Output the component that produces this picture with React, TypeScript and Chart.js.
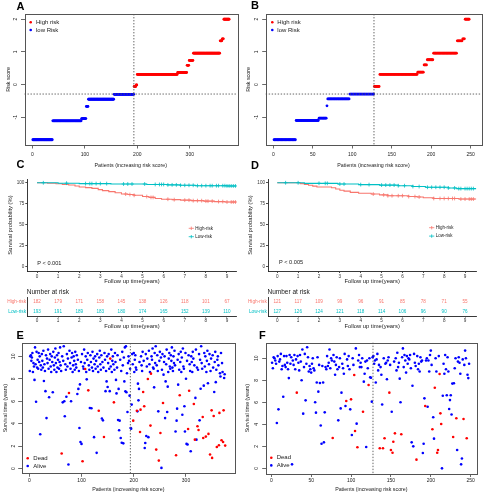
import React, { useEffect, useRef } from "react";
import { Chart, registerables } from "chart.js";

Chart.register(...registerables);

const FONT = "'Liberation Sans', Arial, Helvetica, sans-serif";
const RED = "#FF0000";
const BLUE = "#0000FF";
const HIGH_COL = "#F8766D";
const LOW_COL = "#00BFC4";
const INK = "#1a1a1a";

// ---------- Panels A / B : risk score (step levels and number of patients per level)
const riskLevelsA = [-1.69, -1.11, -1.04, -0.67, -0.45, -0.3, -0.06, -0.01, 0.31, 0.37, 0.59, 0.74, 0.96, 1.34, 1.4, 2.0];
const riskCountsA = [38, 55, 9, 4, 49, 38, 4, 2, 77, 18, 4, 8, 51, 4, 3, 11];
const lowRiskCountA = 193;
const riskLevelsB = [-1.69, -1.1, -1.03, -0.65, -0.44, -0.29, -0.06, 0.31, 0.38, 0.6, 0.76, 0.96, 1.34, 1.4, 2.0];
const riskCountsB = [28, 29, 10, 1, 28, 31, 7, 48, 8, 4, 8, 30, 7, 3, 6];
const lowRiskCountB = 127;
const riskCutoff = -0.29;
const riskTicksY = [-1, 0, 1, 2];
const patientTicksA = [0, 100, 200, 300];
const patientTicksB = [0, 50, 100, 150, 200, 250];

// ---------- Panels E / F : survival time per patient (ordered by risk score)
const survTimeE = [
  8.7, 10.0, 10.1, 9.6, 9.9, 10.3, 8.6, 9.4, 9.1, 7.9, 10.8, 9.3, 5.95, 10.4, 9.0, 9.7, 8.9, 10.3, 9.5, 10.0, 3.06, 9.2, 8.8, 10.2, 9.6,
  9.0, 10.5, 7.8, 9.3, 8.7, 6.9, 10.1, 4.5, 9.8, 9.4, 10.6, 8.9, 6.35, 9.7, 10.2, 9.1, 8.6, 10.0, 9.5, 6.8, 10.4, 9.2, 8.8, 9.9, 10.7,
  9.4, 8.6, 10.1, 9.0, 9.7, 10.3, 8.9, 9.5, 10.8, 9.2, 8.7, 1.34, 10.0, 5.9, 9.6, 10.9, 6.0, 4.66, 9.3, 8.8, 6.4, 10.2, 9.1, 9.8, 0.36,
  6.74, 10.5, 9.4, 8.9, 6.0, 9.9, 10.3, 8.6, 9.2, 10.0, 9.6, 8.8, 10.4, 9.3, 9.0, 10.1, 6.65, 9.7, 7.1, 8.7, 3.62, 7.5, 2.37, 9.5, 2.2,
  10.2, 0.65, 9.1, 8.9, 10.6, 9.4, 8.87, 10.0, 8.6, 7.95, 9.7, 10.3, 6.97, 9.2, 8.8, 5.4, 10.1, 9.5, 5.37, 9.0, 10.4, 8.7, 9.8, 2.8, 9.3,
  10.0, 8.9, 9.6, 1.4, 10.2, 9.1, 8.6, 5.16, 9.9, 10.5, 9.3, 8.8, 10.1, 4.46, 9.5, 4.3, 9.0, 2.82, 10.3, 9.7, 6.9, 8.7, 7.77, 10.0, 7.27,
  9.4, 10.2, 8.9, 6.9, 9.8, 9.1, 10.6, 8.6, 9.6, 10.0, 9.3, 5.9, 8.8, 10.3, 9.5, 7.9, 6.7, 9.0, 10.1, 4.33, 7.1, 3.41, 4.27, 9.7, 2.73,
  8.7, 2.3, 10.4, 9.2, 2.25, 9.9, 7.77, 10.8, 6.88, 10.9, 6.8, 8.5, 5.04, 9.4, 10.0, 9.6, 6.5, 8.9, 3.62, 3.56, 5.7, 10.2, 9.3, 4.27, 10.3,
  8.6, 9.7, 10.1, 9.0, 8.8, 5.16, 5.1, 7.57, 6.08, 7.1, 9.5, 3.26, 5.25, 10.0, 9.2, 8.7, 10.4, 6.82, 9.6, 5.55, 1.84, 2.28, 10.2, 2.9, 9.1,
  9.8, 7.98, 2.8, 10.5, 9.3, 8.6, 3.83, 8.46, 10.0, 9.7, 10.7, 9.0, 8.9, 7.24, 10.3, 9.4, 10.9, 1.69, 9.2, 10.1, 8.7, 5.1, 0.71, 9.6, 10.4,
  3.17, 9.9, 0.06, 8.8, 10.2, 5.85, 8.37, 9.5, 10.0, 4.5, 7.77, 9.3, 10.6, 5.04, 7.3, 8.6, 9.8, 10.3, 9.1, 8.9, 10.1, 9.6, 10.8, 9.0, 8.7,
  10.0, 9.4, 10.5, 9.2, 3.3, 1.19, 4.27, 5.34, 9.7, 7.48, 10.2, 8.8, 6.53, 9.5, 10.4, 8.6, 9.9, 4.8, 10.7, 9.1, 8.9, 5.55, 3.3, 10.3, 8.0,
  2.2, 9.6, 2.14, 3.53, 10.1, 6.94, 9.3, 8.7, 1.54, 10.0, 9.5, 8.6, 10.4, 9.8, 5.76, 9.2, 2.58, 6.3, 10.6, 2.58, 9.0, 3.77, 8.8, 3.44, 10.2,
  4.3, 9.7, 7.12, 10.9, 9.4, 8.9, 4.6, 2.73, 7.39, 10.3, 9.1, 10.0, 2.85, 8.6, 9.6, 10.5, 7.6, 3.09, 9.3, 10.2, 1.25, 8.7, 9.8, 5.19, 0.95,
  10.1, 9.0, 4.69, 6.82, 9.5, 10.4, 7.7, 8.8, 1.93, 9.7, 10.0, 9.2, 2.08, 4.96, 8.5, 8.2, 10.3, 2.52, 9.4, 8.6, 2.37, 5.19, 8.07, 8.4, 2.05,
];
const deadPatientsE = [62, 76, 102, 107, 113, 133, 143, 155, 162, 199, 206, 212, 213, 218, 220, 227, 232, 233, 243, 248, 251, 256, 281, 288, 304, 306, 315, 317, 322, 324, 332, 333, 338, 343, 346, 349, 350, 353, 359, 363, 364, 368, 371, 372, 375];

const survTimeF = [
  9.6, 9.1, 10.1, 10.0, 9.8, 9.5, 4.12, 10.2, 5.36, 9.7, 9.9, 10.4, 9.0, 9.3, 6.5, 10.2, 9.4, 9.2, 10.2, 9.6, 9.0, 8.2, 10.3, 9.5, 10.1,
  0.36, 9.8, 9.4, 10.3, 9.0, 9.9, 6.88, 10.2, 9.6, 8.9, 10.3, 9.7, 8.0, 10.8, 4.97, 9.2, 10.4, 6.18, 9.5, 11.0, 10.1, 8.8, 9.3, 9.0, 8.7,
  9.5, 10.0, 9.1, 8.9, 6.0, 5.06, 7.8, 10.1, 6.97, 9.4, 7.76, 3.9, 2.24, 9.3, 7.8, 2.36, 5.09, 9.2, 9.0, 10.2, 9.3, 9.6, 10.8, 9.1, 10.0,
  9.8, 2.76, 10.3, 9.7, 8.5, 9.4, 10.1, 9.0, 4.36, 9.2, 10.0, 5.45, 6.88, 9.5, 9.1, 8.6, 10.4, 5.67, 6.12, 9.9, 9.3, 10.2, 9.0, 5.36, 6.27,
  3.03, 10.0, 9.4, 8.48, 3.39, 10.9, 4.06, 1.91, 9.8, 10.3, 9.2, 9.6, 9.2, 10.0, 5.15, 7.88, 8.6, 9.7, 1.94, 9.8, 9.1, 7.58, 10.0, 8.27, 8.24,
  6.06, 10.1, 10.2, 9.5, 9.8, 7.8, 9.9, 10.4, 8.9, 9.4, 1.82, 9.2, 8.5, 5.8, 1.82, 10.0, 2.73, 9.5, 9.6, 8.1, 9.8, 10.1, 6.88, 9.4, 1.67,
  5.15, 1.42, 2.42, 9.7, 3.18, 10.0, 8.9, 10.5, 9.2, 9.6, 8.15, 6.0, 3.1, 10.1, 10.9, 9.2, 10.3, 9.8, 8.7, 10.2, 9.5, 10.0, 9.9, 10.3, 9.1,
  2.36, 7.5, 2.0, 10.4, 9.6, 9.3, 0.79, 10.2, 9.0, 9.5, 8.8, 10.1, 9.7, 9.8, 1.4, 2.24, 6.36, 5.67, 9.8, 10.0, 5.6, 9.8, 8.8, 10.3, 10.7,
  9.4, 3.55, 4.64, 2.7, 7.33, 10.0, 8.8, 1.42, 1.67, 10.2, 8.58, 5.0, 4.03, 0.0, 6.6, 9.5, 8.6, 10.3, 9.0, 6.64, 10.1, 8.8, 5.4, 6.2, 6.64,
  4.9, 7.7, 2.85, 7.73, 9.1, 10.0, 4.55, 1.67, 9.7, 10.1, 9.6, 8.6, 0.36, 0.9, 9.9, 4.48, 9.4, 10.7, 10.0, 2.73, 8.5, 8.2, 9.5,
];
const deadPatientsF = [32, 77, 94, 100, 104, 105, 108, 115, 122, 136, 140, 142, 148, 150, 152, 153, 155, 163, 182, 193, 202, 205, 208, 209, 211, 212, 213, 228, 232, 241, 245];
const survTicksY = [0, 2, 4, 6, 8, 10];

// ---------- Panels C / D : Kaplan-Meier curves
const kmTimeHighC = [0.5, 0.9, 1.2, 1.5, 1.8, 2.0, 2.3, 2.6, 2.9, 3.1, 3.4, 3.7, 4.0, 4.3, 4.6, 5.0, 5.3, 5.6, 5.9, 6.4, 6.8, 7.3, 7.9, 8.4, 8.9];
const kmSurvHighC = [99.5, 98.9, 98.0, 97.4, 96.2, 95.0, 94.2, 93.3, 91.8, 90.6, 89.4, 88.0, 86.5, 85.9, 85.0, 83.5, 82.5, 81.2, 80.3, 79.8, 79.2, 78.6, 78.0, 77.5, 77.0];
const kmTimeLowC = [1.0, 2.0, 3.5, 5.2, 6.2, 6.8, 7.5, 9.0];
const kmSurvLowC = [99.5, 99.0, 98.5, 98.0, 97.5, 97.0, 96.5, 96.2];
const censorHighC = [4.2, 4.4, 4.6, 5.2, 5.4, 5.5, 6.2, 6.5, 7.0, 7.2, 7.4, 7.6, 7.8, 8.0, 8.1, 8.3, 8.6, 8.8, 9.0, 9.2, 9.3, 9.4];
const censorLowC = [0.3, 1.4, 2.3, 2.5, 2.6, 2.8, 3.0, 3.3, 4.1, 4.3, 4.5, 5.1, 5.6, 5.8, 5.9, 6.0, 6.2, 6.4, 6.6, 6.8, 7.0, 7.2, 7.4, 7.6, 7.8, 8.0, 8.2, 8.3, 8.5, 8.6, 8.8, 8.9, 9.0, 9.1, 9.2, 9.3, 9.4];

const kmTimeHighD = [1.1, 1.3, 1.5, 1.7, 1.9, 2.6, 2.8, 3.0, 3.2, 3.5, 3.9, 4.5, 4.9, 5.3, 6.3, 6.7, 7.0, 7.5, 8.7];
const kmSurvHighD = [99.0, 98.0, 97.0, 96.0, 95.0, 94.0, 92.5, 91.0, 90.0, 88.5, 87.5, 86.5, 85.5, 84.5, 83.5, 83.0, 82.0, 81.2, 80.5];
const kmTimeLowD = [1.3, 2.9, 3.9, 4.9, 5.8, 6.5, 7.1, 8.2, 8.6];
const kmSurvLowD = [99.3, 98.5, 97.8, 97.2, 96.5, 95.5, 94.6, 93.8, 93.0];
const censorHighD = [4.6, 5.1, 5.3, 5.5, 5.8, 6.0, 6.3, 6.6, 6.8, 7.5, 7.8, 8.0, 8.2, 8.4, 8.5, 8.8, 9.0, 9.2, 9.3, 9.4];
const censorLowD = [0.4, 1.0, 2.0, 2.3, 2.4, 3.0, 3.2, 4.0, 4.4, 5.0, 5.2, 5.4, 5.6, 5.8, 6.1, 6.5, 6.8, 7.2, 7.4, 7.6, 7.8, 8.0, 8.2, 8.5, 8.7, 8.8, 9.0, 9.1, 9.2, 9.3, 9.4];

const yearTicks = [0, 1, 2, 3, 4, 5, 6, 7, 8, 9];
const percentTicks = [0, 25, 50, 75, 100];
const riskGroups = ["High-risk", "Low-risk"];
const atRiskHighC = [182, 179, 171, 158, 145, 138, 126, 118, 101, 67];
const atRiskLowC = [193, 191, 189, 183, 180, 174, 165, 152, 139, 110];
const atRiskHighD = [121, 117, 109, 99, 96, 91, 85, 78, 71, 55];
const atRiskLowD = [127, 126, 124, 121, 118, 114, 106, 96, 90, 76];

// ---------- helpers
function expandSteps(levels: number[], counts: number[]) {
  const out: number[] = [];
  levels.forEach((v, i) => {
    for (let k = 0; k < counts[i]; k++) out.push(v);
  });
  return out;
}

function dotDataset(data: any[], color: string, r: number) {
  return {
    type: "scatter",
    data,
    pointRadius: r,
    pointBackgroundColor: color,
    pointBorderWidth: 0,
    pointBorderColor: color,
    backgroundColor: color,
    borderColor: color,
    showLine: false,
  };
}

function riskDatasets(levels: number[], counts: number[], lowN: number) {
  const scores = expandSteps(levels, counts);
  const low: any[] = [];
  const high: any[] = [];
  scores.forEach((s, i) => (i + 1 <= lowN ? low : high).push({ x: i + 1, y: s }));
  return [dotDataset(high, RED, 1.4), dotDataset(low, BLUE, 1.4)];
}

function survDatasets(times: number[], dead: number[]) {
  const deadSet = new Set(dead);
  const alive: any[] = [];
  const d: any[] = [];
  times.forEach((t, i) => (deadSet.has(i + 1) ? d : alive).push({ x: i + 1, y: t }));
  return [dotDataset(d, RED, 1.3), dotDataset(alive, BLUE, 1.3)];
}

function stepPoints(times: number[], surv: number[], end: number) {
  const pts = [{ x: 0, y: 100 }];
  times.forEach((t, i) => pts.push({ x: t, y: surv[i] }));
  pts.push({ x: end, y: surv[surv.length - 1] });
  return pts;
}

function survivalAt(times: number[], surv: number[], t: number) {
  let s = 100;
  times.forEach((ti, i) => {
    if (ti <= t) s = surv[i];
  });
  return s;
}

function censorPoints(cens: number[], times: number[], surv: number[]) {
  return cens.map((t) => ({ x: t, y: survivalAt(times, surv, t) }));
}

function fixedTicks(values: number[]) {
  return (s: any) => {
    s.ticks = values.map((v) => ({ value: v }));
  };
}

function dotted(ctx: any, x1: number, y1: number, x2: number, y2: number) {
  ctx.save();
  ctx.strokeStyle = "#555";
  ctx.lineWidth = 0.9;
  ctx.setLineDash([1.4, 1.6]);
  ctx.beginPath();
  ctx.moveTo(x1, y1);
  ctx.lineTo(x2, y2);
  ctx.stroke();
  ctx.restore();
}

function dotLegend(ctx: any, items: { label: string; color: string }[], dotX: number, textX: number, y0: number, dy: number) {
  ctx.save();
  ctx.font = `6px ${FONT}`;
  ctx.textBaseline = "middle";
  ctx.textAlign = "left";
  items.forEach((it, i) => {
    const y = y0 + i * dy;
    ctx.fillStyle = it.color;
    ctx.beginPath();
    ctx.arc(dotX, y, 1.3, 0, Math.PI * 2);
    ctx.fill();
    ctx.fillStyle = INK;
    ctx.fillText(it.label, textX, y);
  });
  ctx.restore();
}

// ---------- R base-graphics style panel
function rConfig(p: any) {
  const tickFont = { family: FONT, size: 5 };
  const titleFont = { family: FONT, size: 5.3 };
  return {
    type: "scatter",
    data: { datasets: p.datasets },
    options: {
      animation: false,
      responsive: false,
      events: [],
      layout: { padding: { top: p.padTop, right: p.padRight, left: 0, bottom: 0 } },
      plugins: { legend: { display: false }, tooltip: { enabled: false } },
      scales: {
        x: {
          type: "linear",
          min: p.xMin,
          max: p.xMax,
          afterBuildTicks: fixedTicks(p.xTicks),
          afterFit: (s: any) => {
            s.height = p.xHeight;
          },
          grid: { display: true, drawOnChartArea: false, drawTicks: true, tickLength: 3.5, color: "#444", lineWidth: 0.8 },
          border: { display: false },
          ticks: {
            autoSkip: false,
            maxRotation: 0,
            minRotation: 0,
            padding: p.xTickPad - 0.5,
            color: INK,
            font: tickFont,
            callback: (v: any) => String(v),
          },
          title: { display: true, text: p.xTitle, color: INK, font: titleFont, padding: { top: 0, bottom: p.xTitlePad } },
        },
        y: {
          type: "linear",
          min: p.yMin,
          max: p.yMax,
          afterBuildTicks: fixedTicks(p.yTicks),
          afterFit: (s: any) => {
            s.width = p.yWidth;
          },
          grid: { display: true, drawOnChartArea: false, drawTicks: true, tickLength: 3.5, color: "#444", lineWidth: 0.8 },
          border: { display: false },
          ticks: { display: false },
          title: { display: true, text: p.yTitle, color: INK, font: titleFont, padding: { top: p.yTitlePad, bottom: 0 } },
        },
      },
    },
    plugins: [
      {
        id: "rdeco",
        afterDraw(chart: any) {
          const ctx = chart.ctx;
          const a = chart.chartArea;
          const ys = chart.scales.y;
          // y tick labels, parallel to axis (R style)
          ctx.save();
          ctx.fillStyle = INK;
          ctx.font = `5px ${FONT}`;
          ctx.textAlign = "center";
          ctx.textBaseline = "middle";
          p.yTicks.forEach((v: number) => {
            const py = ys.getPixelForValue(v);
            ctx.save();
            ctx.translate(p.yLabelX, py);
            ctx.rotate(-Math.PI / 2);
            ctx.fillText(String(v), 0, 0);
            ctx.restore();
          });
          ctx.restore();
          p.extra(chart, ctx, a);
          // box
          ctx.save();
          ctx.strokeStyle = "#555";
          ctx.lineWidth = 1;
          ctx.strokeRect(Math.round(a.left) + 0.5, Math.round(a.top) + 0.5, Math.round(a.right - a.left), Math.round(a.bottom - a.top));
          ctx.restore();
        },
      },
    ],
  };
}

function riskConfig(levels: number[], counts: number[], lowN: number, xTicks: number[], geo: any) {
  return rConfig({
    ...geo,
    datasets: riskDatasets(levels, counts, lowN),
    xTicks,
    yTicks: riskTicksY,
    xTitle: "Patients (increasing risk score)",
    yTitle: "Risk score",
    extra: (chart: any, ctx: any, a: any) => {
      const xs = chart.scales.x;
      const ys = chart.scales.y;
      const vx = xs.getPixelForValue(lowN + 0.5);
      const hy = ys.getPixelForValue(riskCutoff);
      dotted(ctx, vx, a.top, vx, a.bottom);
      dotted(ctx, a.left, hy, a.right, hy);
      dotLegend(ctx, [{ label: "High risk", color: RED }, { label: "low Risk", color: BLUE }], geo.legDotX, geo.legTextX, 22.3, 7.7);
    },
  });
}

function survConfig(times: number[], dead: number[], lowN: number, xTicks: number[], geo: any) {
  return rConfig({
    ...geo,
    datasets: survDatasets(times, dead),
    xTicks,
    yTicks: survTicksY,
    xTitle: "Patients (increasing risk score)",
    yTitle: "Survival time (years)",
    extra: (chart: any, ctx: any, a: any) => {
      const xs = chart.scales.x;
      const vx = xs.getPixelForValue(lowN + 0.5);
      dotted(ctx, vx, a.top, vx, a.bottom);
      dotLegend(ctx, [{ label: "Dead", color: RED }, { label: "Alive", color: BLUE }], geo.legDotX, geo.legTextX, geo.legY, 7.7);
    },
  });
}

// ---------- ggplot / survminer style KM panel
function kmConfig(p: any) {
  const axisCol = "#222";
  return {
    type: "line",
    data: {
      datasets: [
        { type: "line", data: stepPoints(p.lowT, p.lowS, p.xMax), borderColor: LOW_COL, borderWidth: 1.1, stepped: true, pointRadius: 0, fill: false },
        { type: "scatter", data: censorPoints(p.lowC, p.lowT, p.lowS), pointStyle: "cross", pointRadius: 1.9, borderColor: LOW_COL, pointBorderColor: LOW_COL, borderWidth: 0.8, showLine: false },
        { type: "line", data: stepPoints(p.highT, p.highS, p.xMax), borderColor: HIGH_COL, borderWidth: 1.1, stepped: true, pointRadius: 0, fill: false },
        { type: "scatter", data: censorPoints(p.highC, p.highT, p.highS), pointStyle: "cross", pointRadius: 1.9, borderColor: HIGH_COL, pointBorderColor: HIGH_COL, borderWidth: 0.8, showLine: false },
      ],
    },
    options: {
      animation: false,
      responsive: false,
      events: [],
      layout: { padding: { top: 9, right: p.padRight, left: 0, bottom: 0 } },
      plugins: { legend: { display: false }, tooltip: { enabled: false } },
      scales: {
        x: {
          type: "linear",
          min: p.xMin,
          max: p.xMax,
          afterBuildTicks: fixedTicks(yearTicks),
          afterFit: (s: any) => {
            s.height = 17;
          },
          grid: { display: true, drawOnChartArea: false, drawTicks: true, tickLength: 2, color: axisCol, lineWidth: 0.8 },
          border: { display: true, color: axisCol, width: 0.9 },
          ticks: { autoSkip: false, maxRotation: 0, minRotation: 0, padding: 0.5, color: "#333", font: { family: FONT, size: 4.6 }, callback: (v: any) => String(v) },
          title: { display: true, text: "Follow up time(years)", color: INK, font: { family: FONT, size: 5.8 }, padding: { top: 0, bottom: 2.8 } },
        },
        y: {
          type: "linear",
          min: -5.5,
          max: 104.5,
          afterBuildTicks: fixedTicks(percentTicks),
          afterFit: (s: any) => {
            s.width = p.yWidth;
          },
          grid: { display: true, drawOnChartArea: false, drawTicks: true, tickLength: 2, color: axisCol, lineWidth: 0.8 },
          border: { display: true, color: axisCol, width: 0.9 },
          ticks: { padding: 1, color: "#333", font: { family: FONT, size: 4.6 }, callback: (v: any) => String(v) },
          title: { display: true, text: "Survival probability (%)", color: INK, font: { family: FONT, size: 5.8 }, padding: { top: p.yTitlePad, bottom: 0 } },
        },
      },
    },
    plugins: [
      {
        id: "kmdeco",
        afterDraw(chart: any) {
          const ctx = chart.ctx;
          ctx.save();
          const items = [
            { label: "High-risk", color: HIGH_COL },
            { label: "Low-risk", color: LOW_COL },
          ];
          items.forEach((it, i) => {
            const y = p.legY + i * 8.4;
            ctx.strokeStyle = it.color;
            ctx.lineWidth = 0.8;
            ctx.beginPath();
            ctx.moveTo(p.legX - 2.6, y);
            ctx.lineTo(p.legX + 2.6, y);
            ctx.moveTo(p.legX, y - 1.7);
            ctx.lineTo(p.legX, y + 1.7);
            ctx.stroke();
            ctx.fillStyle = INK;
            ctx.font = `4.5px ${FONT}`;
            ctx.textAlign = "left";
            ctx.textBaseline = "middle";
            ctx.fillText(it.label, p.legX + 4, y);
          });
          ctx.fillStyle = INK;
          ctx.font = `5.6px ${FONT}`;
          ctx.textAlign = "left";
          ctx.textBaseline = "middle";
          ctx.fillText(p.pText, p.pX, p.pY);
          ctx.restore();
        },
      },
    ],
  };
}

function tableConfig(p: any) {
  const axisCol = "#222";
  const rows = [p.high, p.low];
  return {
    type: "scatter",
    data: { datasets: [] },
    options: {
      animation: false,
      responsive: false,
      events: [],
      layout: { padding: { top: 9, right: p.padRight, left: 0, bottom: 0 } },
      plugins: { legend: { display: false }, tooltip: { enabled: false } },
      scales: {
        x: {
          type: "linear",
          min: p.xMin,
          max: p.xMax,
          afterBuildTicks: fixedTicks(yearTicks),
          afterFit: (s: any) => {
            s.height = 16;
          },
          grid: { display: true, drawOnChartArea: false, drawTicks: true, tickLength: 1.5, color: axisCol, lineWidth: 0.8 },
          border: { display: true, color: axisCol, width: 0.9 },
          ticks: { autoSkip: false, maxRotation: 0, minRotation: 0, padding: 0.3, color: "#333", font: { family: FONT, size: 4.6 }, callback: (v: any) => String(v) },
          title: { display: true, text: "Follow up time(years)", color: INK, font: { family: FONT, size: 5.8 }, padding: { top: 0, bottom: 1.8 } },
        },
        y: {
          type: "category",
          labels: riskGroups,
          offset: true,
          afterFit: (s: any) => {
            s.width = p.yWidth;
          },
          grid: { display: false, drawTicks: false, tickLength: 0 },
          border: { display: true, color: axisCol, width: 0.9 },
          ticks: {
            padding: 1.2,
            font: { family: FONT, size: 4.8 },
            color: (c: any) => (c.index === 0 ? HIGH_COL : LOW_COL),
          },
        },
      },
    },
    plugins: [
      {
        id: "tabledeco",
        afterDraw(chart: any) {
          const ctx = chart.ctx;
          const xs = chart.scales.x;
          const ys = chart.scales.y;
          const a = chart.chartArea;
          ctx.save();
          ctx.font = `4.6px ${FONT}`;
          ctx.textAlign = "center";
          ctx.textBaseline = "middle";
          rows.forEach((vals: number[], r: number) => {
            ctx.fillStyle = r === 0 ? HIGH_COL : LOW_COL;
            vals.forEach((v, k) => {
              ctx.fillText(String(v), xs.getPixelForValue(yearTicks[k]), ys.getPixelForValue(r));
            });
          });
          ctx.fillStyle = INK;
          ctx.font = `6.5px ${FONT}`;
          ctx.textAlign = "left";
          ctx.fillText("Number at risk", a.left - 0.5, 3.8);
          ctx.restore();
        },
      },
    ],
  };
}

// ---------- configs for each panel
const makeA = () =>
  riskConfig(riskLevelsA, riskCountsA, lowRiskCountA, patientTicksA, {
    xMin: -14.9, xMax: 390, yMin: -1.85, yMax: 2.16,
    padTop: 14, padRight: 8, yWidth: 24.5, xHeight: 25,
    yTitlePad: 5.5, yLabelX: 15.3, xTickPad: 3.4, xTitlePad: 1.5,
    legDotX: 30.7, legTextX: 36,
  });
const makeB = () =>
  riskConfig(riskLevelsB, riskCountsB, lowRiskCountB, patientTicksB, {
    xMin: -9.6, xMax: 263.4, yMin: -1.85, yMax: 2.16,
    padTop: 14, padRight: 7.7, yWidth: 21.7, xHeight: 25,
    yTitlePad: 1.5, yLabelX: 12.8, xTickPad: 3.4, xTitlePad: 1.5,
    legDotX: 28.3, legTextX: 33.3,
  });
const makeC = () =>
  kmConfig({
    xMin: -0.46, xMax: 9.46, padRight: 8.3, yWidth: 27.3, yTitlePad: 6.5,
    lowT: kmTimeLowC, lowS: kmSurvLowC, lowC: censorLowC,
    highT: kmTimeHighC, highS: kmSurvHighC, highC: censorHighC,
    legX: 191.3, legY: 58.3, pText: "P < 0.001", pX: 37.3, pY: 93.3,
  });
const makeD = () =>
  kmConfig({
    xMin: -0.444, xMax: 9.54, padRight: 12.7, yWidth: 24, yTitlePad: 2.5,
    lowT: kmTimeLowD, lowS: kmSurvLowD, lowC: censorLowD,
    highT: kmTimeHighD, highS: kmSurvHighD, highC: censorHighD,
    legX: 187.7, legY: 57.7, pText: "P < 0.005", pX: 35, pY: 92.3,
  });
const makeTableC = () =>
  tableConfig({ xMin: -0.46, xMax: 9.46, padRight: 8.3, yWidth: 27.3, high: atRiskHighC, low: atRiskLowC });
const makeTableD = () =>
  tableConfig({ xMin: -0.444, xMax: 9.54, padRight: 12.7, yWidth: 24, high: atRiskHighD, low: atRiskLowD });
const makeE = () =>
  survConfig(survTimeE, deadPatientsE, lowRiskCountA, patientTicksA, {
    xMin: -14.5, xMax: 393.8, yMin: -0.42, yMax: 11.19,
    padTop: 13, padRight: 10, yWidth: 21.7, xHeight: 26.7,
    yTitlePad: 2.6, yLabelX: 13.3, xTickPad: 1.4, xTitlePad: 7.5,
    legDotX: 27.7, legTextX: 33.3, legY: 128.3,
  });
const makeF = () =>
  survConfig(survTimeF, deadPatientsF, lowRiskCountB, patientTicksB, {
    xMin: -7.0, xMax: 257.9, yMin: -0.47, yMax: 11.42,
    padTop: 12.7, padRight: 12, yWidth: 21.7, xHeight: 26.5,
    yTitlePad: 0.8, yLabelX: 13, xTickPad: 1.4, xTitlePad: 7.5,
    legDotX: 27.3, legTextX: 32.7, legY: 127.7,
  });

function ChartBox({ left, top, width, height, make }: any) {
  const ref = useRef<HTMLCanvasElement | null>(null);
  useEffect(() => {
    const chart = new Chart(ref.current as any, make());
    return () => chart.destroy();
  }, []);
  return (
    <canvas
      ref={ref}
      width={width}
      height={height}
      style={{ position: "absolute", left, top, width, height, display: "block" }}
    />
  );
}

const panelLetters = [
  { t: "A", x: 16.5, base: 10 },
  { t: "B", x: 251, base: 9.5 },
  { t: "C", x: 16.5, base: 168.5 },
  { t: "D", x: 251, base: 169.5 },
  { t: "E", x: 16.5, base: 339 },
  { t: "F", x: 259, base: 339.5 },
];

export default function App() {
  return (
    <div style={{ position: "fixed", left: 0, top: 0, width: 489, height: 500, background: "#fff", overflow: "hidden" }}>
      <ChartBox left={0} top={0} width={245} height={170} make={makeA} />
      <ChartBox left={244} top={0} width={245} height={170} make={makeB} />
      <ChartBox left={0} top={170} width={245} height={118} make={makeC} />
      <ChartBox left={244} top={170} width={245} height={118} make={makeD} />
      <ChartBox left={0} top={288} width={245} height={44} make={makeTableC} />
      <ChartBox left={244} top={288} width={245} height={44} make={makeTableD} />
      <ChartBox left={0} top={330} width={245} height={170} make={makeE} />
      <ChartBox left={244} top={330} width={245} height={170} make={makeF} />
      {panelLetters.map((l) => (
        <div
          key={l.t}
          style={{
            position: "absolute",
            left: l.x,
            top: l.base - 9.5,
            fontFamily: FONT,
            fontWeight: "bold",
            fontSize: 11,
            lineHeight: "11px",
            color: "#000",
          }}
        >
          {l.t}
        </div>
      ))}
    </div>
  );
}
